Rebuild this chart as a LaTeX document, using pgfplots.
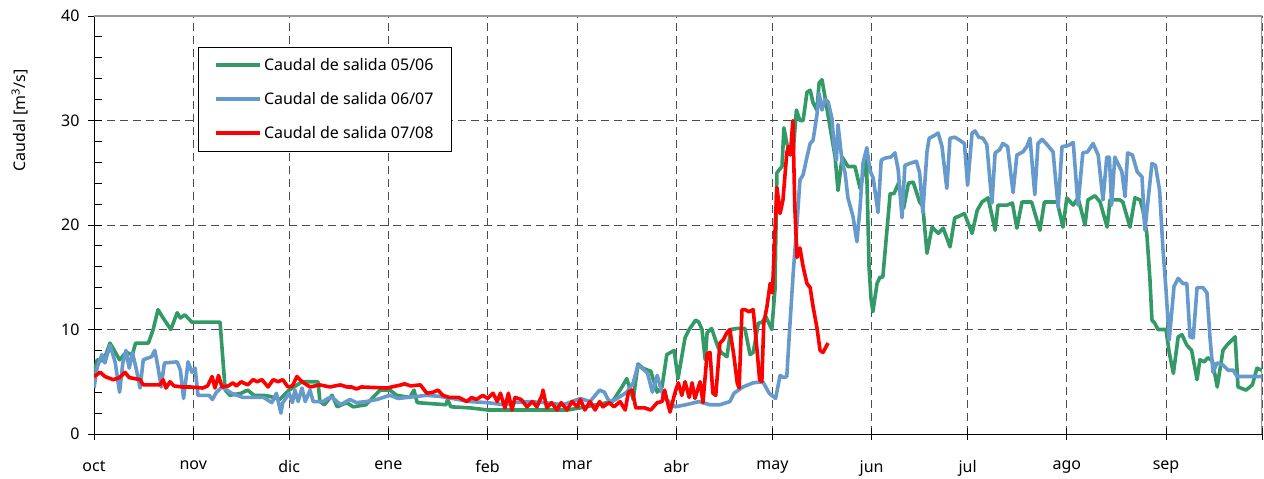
\documentclass[border=0pt]{standalone}
\usepackage{fontspec}
\setmainfont{Noto Sans}
\usepackage{pgfplots}
\pgfplotsset{compat=1.18}
\definecolor{cgreen}{RGB}{51,153,102}
\definecolor{cblue}{RGB}{102,153,204}
\definecolor{cred}{RGB}{255,0,0}
\begin{document}
\fontsize{16}{19}\selectfont
\begin{tikzpicture}
\begin{axis}[
  scale only axis, width=1168pt, height=418pt,
  xmin=0, xmax=365, ymin=0, ymax=40,
  axis x line=bottom, axis y line=left,
  axis line style={-, black, line width=0.9pt},
  xtick={0,31,61,92,123,151,182,212,243,273,304,335,365},
  xticklabels={oct,nov,dic,ene,feb,mar,abr,may,jun,jul,ago,sep,},
  ytick={0,10,20,30,40}, minor ytick={2,4,...,38},
  tick align=center, major tick length=12pt, minor tick length=8pt,
  tick style={black, line width=0.8pt},
  minor y tick style={xshift=4pt},
  xmajorgrids, ymajorgrids,
  major grid style={black!70, line width=0.8pt, dash pattern=on 8pt off 5pt},
  /pgf/number format/assume math mode=true,
  ticklabel style={font=\fontsize{16}{19}\selectfont},
  xticklabel style={yshift=-15pt},
  yticklabel style={xshift=-3pt},
  ylabel={Caudal [m\textsuperscript{3}/s]},
  ylabel style={at={([xshift=-60pt]rel axis cs:0,0.75)}, anchor=south, font=\fontsize{16}{19}\selectfont},
  legend style={at={(rel axis cs:0.089,0.926)}, anchor=north west,
    draw=black, line width=0.9pt, fill=white,
    inner xsep=16pt, inner ysep=8.5pt, row sep=15.5pt,
    font=\fontsize{16}{19}\selectfont},
  legend cell align=left,
  legend image code/.code={\draw[#1] (0pt,0pt) -- (44pt,0pt);},
  every axis plot/.append style={line width=3.6pt, line join=round},
]
\draw[black!40, line width=1.5pt] (rel axis cs:0,1) -- (rel axis cs:1,1) -- (rel axis cs:1,0);
\addplot[cgreen] coordinates {
(0,5.8)(1,7.1)(3,7.0)(5,8.7)(8,7.1)(10,7.8)(12,7.6)(13,8.7)(17,8.7)(18.5,10)(20,11.9)(21.6,11.1)(24,10.0)(26,11.6)(27,11.1)(28.4,11.4)(30.6,10.7)(39.4,10.7)(41,4.2)(42.5,3.7)(46,3.9)(48,4.2)(50,3.7)(53,3.7)(55,3.6)(58,3.3)(61,4.2)(63,4.6)(65,5.0)(70,5.0)(70.6,3.1)(72,2.8)(74.4,3.7)(76,2.6)(79,3.0)(81,2.6)(85,2.8)(89.4,4.2)(92.5,4.2)(94.6,3.7)(98.7,3.5)(100,4.2)(101,3.0)(110,2.8)(110.5,3.3)(111.5,2.6)(117.5,2.5)(123,2.3)(141.5,2.3)(148,2.3)(152,2.5)(157,2.8)(162,3.1)(165,4.5)(166.5,5.3)(168.5,3.3)(170,6.7)(171.5,6.3)(174,6.0)(176,4.0)(177.5,4.5)(179,7.6)(181.3,8.0)(182.5,5.3)(184.7,9.2)(186,10.0)(188,10.9)(189,10.7)(190,10.0)(191,7.1)(191.6,9.7)(193,10.1)(195,8.3)(196,7.8)(197.8,7.4)(199,10.0)(201,10.1)(203.4,10.1)(205,7.6)(206,7.8)(207.6,10.6)(208.7,10.7)(210,11.2)(211.8,10.0)(212.8,13.8)(213.4,25.0)(215,25.6)(215.6,29.3)(216.5,27.8)(217.5,27.0)(218.5,27.0)(219.5,31.0)(220.6,30.0)(221.6,30.0)(222.8,32.7)(223.8,32.9)(224.7,31.7)(225.9,31.0)(226.6,33.6)(227.5,33.9)(228.4,32.3)(230,29.4)(231.6,26.5)(232.5,23.3)(233.8,26.5)(235.6,25.6)(237.8,25.6)(239.4,23.5)(240.5,25.0)(241.4,26.2)(242.2,16.0)(242.8,13.0)(243.4,11.7)(244.7,14.4)(245.6,15.0)(246.5,15.0)(248.8,23.0)(250,23.0)(251.4,24.0)(253,21.6)(254.5,24.0)(256,24.1)(258,22.2)(259,21.8)(260.3,17.3)(261.9,19.8)(263.8,19.2)(265.4,19.7)(267.5,17.9)(269,20.7)(270,20.8)(272,21.1)(274.4,19.2)(276,21.4)(277.5,22.2)(279.4,22.6)(281.6,19.5)(282.5,21.9)(285.3,21.9)(287,22.1)(288.4,19.7)(290,22.2)(293,22.2)(295.6,19.5)(297,22.2)(301,22.2)(302.8,19.8)(304,22.6)(306,21.9)(307.5,22.6)(309.7,20.0)(310.6,22.4)(312.8,22.8)(314.4,22.2)(316.6,19.8)(317.5,22.4)(320.6,22.4)(321.5,22.2)(323.75,19.8)(325.3,22.6)(326.9,22.4)(327.8,21.4)(329,19.2)(330,14.7)(330.6,10.9)(331.5,10.6)(332.5,10.0)(335,10.0)(336,7.8)(337.3,5.8)(338.8,9.3)(340,9.5)(341.5,8.5)(343,8.0)(344.7,5.2)(345.6,7.1)(347,6.9)(348,7.3)(349.5,7.0)(351,4.5)(352.8,8.0)(354,8.5)(356.6,9.3)(357.5,4.5)(360,4.2)(362,4.7)(363.4,6.3)(365,6.1)
};
\addlegendentry{Caudal de salida 05/06}
\addplot[cblue] coordinates {
(0,4.4)(1,6.4)(2.5,7.6)(3.4,6.8)(5,8.5)(6.6,6.9)(8,4.0)(9,6.8)(10,8.0)(11,6.3)(12,7.8)(13.3,6.1)(14.4,4.4)(15.4,7.1)(18,7.4)(19,8.0)(20,6.4)(21,4.5)(22,6.8)(26,6.9)(27,6.1)(28,3.4)(29.4,6.9)(30.6,5.9)(31.6,6.3)(32.5,3.7)(36,3.7)(37,3.3)(38.3,4.0)(40,4.5)(43,3.9)(46.5,3.5)(53,3.5)(55.6,3.0)(57,3.9)(58.4,2.0)(59,3.0)(61,3.9)(62,3.0)(62.8,4.2)(63.8,3.1)(65,4.4)(66,3.1)(67.5,4.2)(68.5,3.1)(71.6,3.1)(73,3.4)(74.5,3.5)(77,2.8)(80,3.3)(82,3.0)(85,3.1)(88.4,3.3)(90.4,3.5)(92.5,3.7)(95,3.4)(98,3.5)(104,3.7)(108,3.6)(112,3.4)(117.5,3.1)(123,3.0)(128,2.8)(131,3.0)(136,3.1)(141,3.0)(146.6,2.8)(152,3.4)(155,3.1)(158,4.2)(159.5,4.0)(161,3.1)(163,3.3)(166.5,4.0)(168.5,4.9)(170,6.6)(172,6.1)(173,5.8)(174.5,4.0)(176,5.6)(177,4.5)(178,3.5)(180,3.0)(181.6,2.6)(185,2.8)(189,3.1)(192.5,2.8)(195.6,2.8)(198.7,3.1)(200,3.9)(202.8,4.5)(206,4.9)(209,5.0)(211,3.9)(213,3.4)(214.4,5.6)(215.5,5.4)(216.5,5.5)(217.5,10.6)(218.5,15.4)(219.7,20.2)(220.6,24.3)(221.6,24.8)(222.8,26.5)(223.8,27.8)(224.7,28.1)(225.9,30.5)(226.6,32.6)(227.5,31.0)(228.4,32.0)(229.4,31.8)(230.6,30.2)(231.3,27.5)(232,26.2)(232.5,29.6)(233.8,26.0)(234.7,25.0)(235.6,22.6)(237.2,20.8)(238.4,18.4)(239.4,21.7)(240.3,25.9)(241.5,27.4)(242.5,25.2)(243.5,24.5)(245,21.2)(246,26.2)(247.2,26.4)(249,26.5)(250.3,26.9)(251.3,25.3)(252.5,20.7)(253.4,25.7)(255,25.9)(257,26.1)(258,25.0)(259,21.2)(260.3,27.0)(261,28.3)(262.8,28.6)(263.8,28.8)(265,27.5)(266.5,23.5)(267.5,28.3)(269,28.4)(270.6,28.1)(272,27.8)(273,23.8)(274.4,28.8)(275.3,29.0)(276.5,28.4)(277.8,28.3)(279,27.7)(280.6,22.1)(281.6,26.9)(283,27.2)(284,27.8)(285.5,27.5)(287.2,23.1)(288.4,26.7)(290.3,27.0)(291.5,27.5)(292.5,28.3)(294,22.9)(295,27.8)(296.3,28.2)(297.8,27.7)(299.7,27.0)(301.3,21.7)(302.5,27.5)(304.4,27.6)(306,27.9)(307.5,21.9)(309,26.9)(310.5,27.0)(312.2,27.8)(313.8,26.7)(315.3,22.4)(316.5,26.5)(317.3,26.5)(318,21.9)(319,26.5)(321.2,25.1)(322.2,22.7)(323,26.9)(324.5,26.7)(326,25.1)(327.5,24.6)(328.4,19.5)(329.4,22.4)(330.6,25.9)(331.7,25.7)(333,23.3)(334,17.9)(335,13.8)(336,9.0)(337.5,14.1)(338.8,14.9)(340.3,14.4)(341.5,14.4)(342.5,9.3)(343.5,9.2)(344.7,14.0)(346.6,14.0)(347.8,13.5)(348.8,9.0)(349.7,5.9)(350.9,6.8)(352.8,6.6)(354.4,6.1)(356,6.1)(357.2,5.5)(362.2,5.5)(365,5.5)
};
\addlegendentry{Caudal de salida 06/07}
\addplot[cred] coordinates {
(0,5.5)(2,5.9)(3.4,5.5)(6,5.2)(8,5.4)(9.7,5.9)(11,5.4)(14.4,5.2)(15.4,4.7)(20.6,4.7)(21.6,5.2)(22.5,4.4)(23.75,5.0)(25,4.6)(27.5,4.5)(30,4.5)(34,4.4)(35.5,4.6)(36.9,5.5)(37.8,4.4)(38.9,5.6)(40,4.5)(42,4.6)(43.4,4.9)(44.5,4.6)(46,5.0)(48,4.7)(49.7,5.2)(51,5.0)(52.5,5.2)(54.4,4.5)(56,5.2)(57.5,5.0)(59,5.2)(60.6,4.5)(62,4.6)(63.4,5.5)(65,5.0)(67.5,4.5)(70.5,4.7)(73.75,4.5)(77,4.7)(79,4.5)(80.5,4.5)(82,4.3)(83.5,4.5)(91.5,4.4)(96,4.7)(97,4.8)(99,4.6)(102,4.7)(104,3.9)(106,4.0)(107.5,4.2)(109,3.7)(111,3.5)(114,3.5)(116.5,3.1)(118,3.5)(119.5,3.3)(121.5,3.7)(123,3.4)(124.7,3.9)(126,3.1)(127,3.9)(128.4,2.5)(129.5,3.9)(130.6,2.3)(131.6,3.5)(133.5,3.3)(135.3,2.6)(137,3.1)(138.4,2.6)(140,3.7)(140.3,4.2)(141.5,2.5)(143,3.0)(144.7,2.3)(146,3.0)(147.8,2.3)(149.4,3.1)(151,2.6)(152,3.3)(153.4,2.3)(155,3.1)(156.6,2.3)(158,3.1)(159,2.6)(161,3.0)(162.5,2.6)(164.4,3.1)(166,2.3)(167,4.0)(168.2,4.2)(169.3,2.5)(172,2.5)(174,2.3)(176,3.0)(177.5,3.1)(178.3,4.2)(179,3.3)(180,2.1)(181.6,4.0)(182.6,4.9)(183.7,3.7)(184.7,5.0)(186,3.5)(186.9,4.9)(187.8,3.4)(189.4,5.0)(190.3,3.0)(191.6,7.7)(192.5,7.8)(193.4,3.9)(194.3,3.7)(195.6,8.7)(196.6,9.0)(197.8,9.7)(198.7,10.0)(200,7.4)(201,4.9)(201.6,4.4)(202.5,11.9)(203.4,11.9)(204.7,11.7)(206,11.9)(207.2,8.0)(208,5.2)(208.7,5.0)(209.3,10.6)(210.3,12.2)(211.3,14.4)(212,13.5)(212.6,17.9)(213.4,23.6)(214.4,21.1)(215.3,22.4)(216.5,26.9)(217,27.5)(217.6,26.7)(218.4,30.0)(219,21.7)(219.7,16.9)(220.6,17.8)(221.6,16.0)(222.8,14.4)(223.8,14.0)(224.7,12.2)(225.9,10.2)(226.9,8.0)(227.8,7.8)(229.4,8.7)
};
\addlegendentry{Caudal de salida 07/08}
\end{axis}
\pgfresetboundingbox
\path ([xshift=-94pt,yshift=-45pt]current axis.origin) rectangle ([xshift=2pt,yshift=16pt]current axis.north east);
\end{tikzpicture}
\end{document}
